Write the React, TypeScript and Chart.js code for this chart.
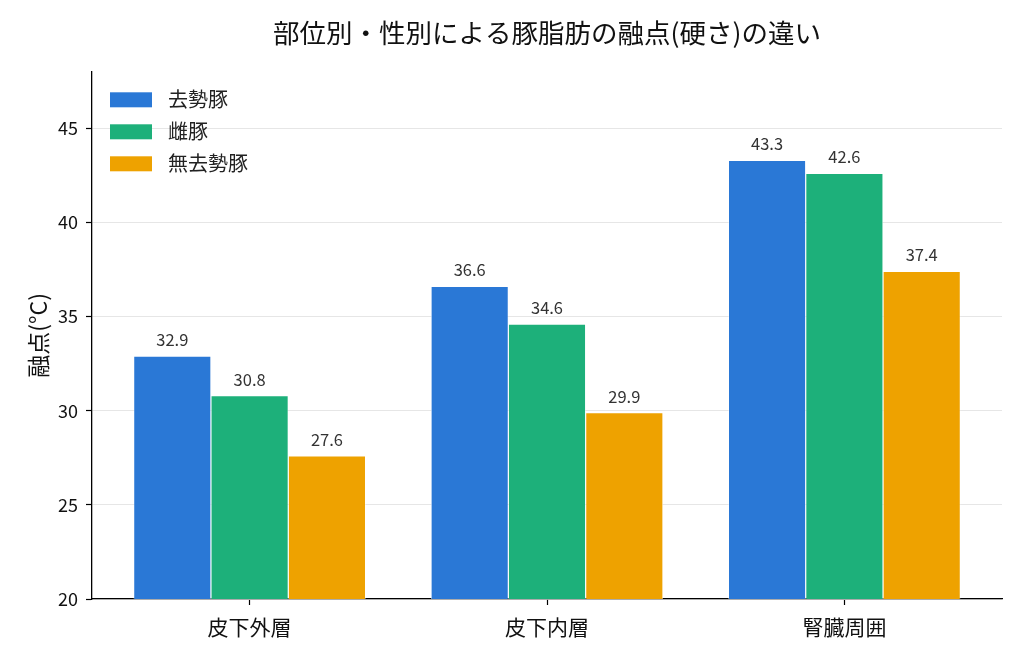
import { useEffect, useRef } from 'react';
import { Chart, registerables } from 'chart.js';
Chart.register(...registerables);

const FONT = '"Noto Sans CJK JP", "Noto Sans", sans-serif';

const categories = ['皮下外層', '皮下内層', '腎臓周囲'];
const seriesNames = ['去勢豚', '雌豚', '無去勢豚'];
const castrated = [32.9, 36.6, 43.3];
const female = [30.8, 34.6, 42.6];
const boar = [27.6, 29.9, 37.4];
const seriesColors = ['#2a78d6', '#1db07a', '#eea200'];
const yTicks = [20, 25, 30, 35, 40, 45];

const valueLabels = {
  id: 'valueLabels',
  afterDatasetsDraw(chart: any) {
    const ctx = chart.ctx;
    ctx.save();
    ctx.font = `16.5px ${FONT}`;
    ctx.fillStyle = '#333';
    ctx.textAlign = 'center';
    ctx.textBaseline = 'alphabetic';
    chart.data.datasets.forEach((ds: any, i: number) => {
      chart.getDatasetMeta(i).data.forEach((bar: any, j: number) => {
        ctx.fillText(ds.data[j].y.toFixed(1), bar.x, bar.y - 10);
      });
    });
    ctx.restore();
  },
};

const innerLegend = {
  id: 'innerLegend',
  afterDraw(chart: any) {
    const ctx = chart.ctx;
    const { left, top } = chart.chartArea;
    ctx.save();
    ctx.font = `20px ${FONT}`;
    ctx.textBaseline = 'middle';
    chart.data.datasets.forEach((ds: any, i: number) => {
      const y = top + 28 + i * 32;
      ctx.fillStyle = ds.backgroundColor;
      ctx.fillRect(left + 18, y - 7.5, 42, 15);
      ctx.fillStyle = '#222';
      ctx.fillText(ds.label, left + 76, y);
    });
    ctx.restore();
  },
};

export default function App() {
  const canvasRef = useRef<HTMLCanvasElement>(null);
  const chartRef = useRef<Chart | null>(null);

  useEffect(() => {
    document.body.style.margin = '0';
    if (!canvasRef.current) return;
    if (chartRef.current) chartRef.current.destroy();

    const values = [castrated, female, boar];

    chartRef.current = new Chart(canvasRef.current, {
      type: 'bar',
      data: {
        datasets: values.map((vals, i) => ({
          label: seriesNames[i],
          data: vals.map((v, j) => ({ x: j, y: v })),
          backgroundColor: seriesColors[i],
          borderColor: '#ffffff',
          borderWidth: 0.6,
          categoryPercentage: 0.78,
          barPercentage: 1.0,
        })),
      },
      options: {
        responsive: true,
        maintainAspectRatio: false,
        animation: false,
        layout: { padding: { left: 0, right: 22, top: 0, bottom: 0 } },
        plugins: {
          legend: { display: false },
          tooltip: { enabled: false },
          title: {
            display: true,
            fullSize: false,
            text: '部位別・性別による豚脂肪の融点(硬さ)の違い',
            color: '#111',
            font: { family: FONT, size: 26.5, weight: 'normal' },
            padding: { top: 17, bottom: 23 },
          },
        },
        scales: {
          x: {
            type: 'linear',
            min: -0.53,
            max: 2.53,
            offset: false,
            afterFit: (s: any) => { s.height = 59; },
            afterBuildTicks: (s: any) => { s.ticks = categories.map((_, i) => ({ value: i })); },
            ticks: {
              callback: (v: any) => categories[v] ?? '',
              color: '#111',
              font: { family: FONT, size: 21 },
              padding: 9,
              maxRotation: 0,
            },
            grid: { offset: false, drawOnChartArea: false, drawTicks: true, tickLength: 6, tickColor: '#000', tickWidth: 1.2 },
            border: { color: '#000', width: 1.3 },
          },
          y: {
            min: 20,
            max: 48,
            afterFit: (s: any) => { s.width = 92; },
            afterBuildTicks: (s: any) => { s.ticks = yTicks.map(v => ({ value: v })); },
            ticks: {
              color: '#111',
              font: { family: FONT, size: 18 },
              padding: 8,
            },
            grid: { color: '#e6e6e6', lineWidth: 1, tickLength: 6, tickColor: '#000', tickWidth: 1.2 },
            border: { color: '#000', width: 1.3 },
            title: {
              display: true,
              text: '融点(°C)',
              color: '#111',
              font: { family: FONT, size: 23 },
              padding: { top: 24, bottom: 0 },
            },
          },
        },
      },
      plugins: [valueLabels, innerLegend],
    });

    return () => { chartRef.current?.destroy(); };
  }, []);

  return (
    <div style={{ width: 1024, height: 658, position: 'relative' }}>
      <canvas ref={canvasRef} role="img" aria-label="豚脂肪の融点の比較" />
    </div>
  );
}
